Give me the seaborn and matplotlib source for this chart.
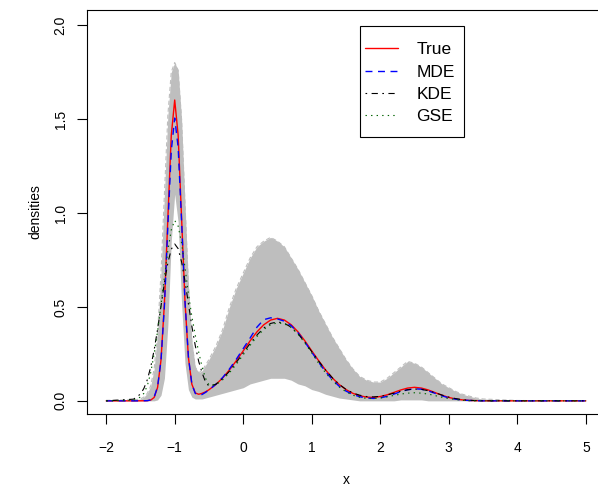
import matplotlib
matplotlib.use("Agg")
import matplotlib.pyplot as plt
import seaborn as sns
import pandas as pd
from matplotlib.patches import Rectangle
from matplotlib.lines import Line2D

# ---------------- data ----------------
x_grid = [-2.0, -1.6, -1.5, -1.45, -1.4, -1.35, -1.3, -1.25, -1.2, -1.15, -1.1, -1.05,
          -1.0, -0.95, -0.9, -0.85, -0.8, -0.75, -0.7, -0.65, -0.6, -0.55, -0.5,
          -0.4, -0.3, -0.2, -0.1, 0.0, 0.1, 0.2, 0.3, 0.4, 0.5, 0.6, 0.7, 0.8, 0.9,
          1.0, 1.1, 1.2, 1.3, 1.4, 1.5, 1.6, 1.7, 1.8, 1.9, 2.0, 2.1, 2.2, 2.3, 2.4,
          2.5, 2.6, 2.7, 2.8, 2.9, 3.0, 3.1, 3.2, 3.3, 3.4, 3.5, 4.0, 4.5, 5.0]

true_dens = [0, 0, 0.0002, 0.0004, 0.0008, 0.004, 0.018, 0.071, 0.217, 0.520, 0.971, 1.412,
             1.601, 1.415, 0.977, 0.530, 0.231, 0.089, 0.042, 0.035, 0.040, 0.048, 0.059,
             0.087, 0.122, 0.165, 0.214, 0.266, 0.319, 0.367, 0.405, 0.430, 0.439, 0.430,
             0.405, 0.367, 0.319, 0.266, 0.214, 0.165, 0.122, 0.087, 0.060, 0.040, 0.027,
             0.020, 0.018, 0.023, 0.032, 0.045, 0.058, 0.068, 0.072, 0.068, 0.058, 0.044,
             0.030, 0.018, 0.010, 0.005, 0.002, 0.001, 0.0003, 0, 0, 0]

mde_dens = [0, 0, 0.0002, 0.0005, 0.001, 0.005, 0.020, 0.075, 0.215, 0.505, 0.930, 1.330,
            1.505, 1.350, 0.960, 0.530, 0.235, 0.090, 0.040, 0.030, 0.034, 0.045, 0.058,
            0.088, 0.124, 0.170, 0.222, 0.278, 0.334, 0.392, 0.432, 0.442, 0.436, 0.424,
            0.400, 0.362, 0.313, 0.259, 0.206, 0.156, 0.113, 0.078, 0.052, 0.034, 0.022,
            0.015, 0.013, 0.016, 0.024, 0.036, 0.049, 0.059, 0.064, 0.062, 0.053, 0.040,
            0.027, 0.016, 0.009, 0.004, 0.002, 0.001, 0, 0, 0, 0]

kde_dens = [0, 0.009, 0.036, 0.066, 0.112, 0.180, 0.271, 0.381, 0.504, 0.629, 0.734, 0.807,
            0.835, 0.810, 0.740, 0.638, 0.517, 0.398, 0.294, 0.210, 0.149, 0.100, 0.078,
            0.088, 0.118, 0.158, 0.205, 0.255, 0.305, 0.350, 0.388, 0.412, 0.420, 0.413,
            0.392, 0.357, 0.312, 0.262, 0.212, 0.165, 0.123, 0.088, 0.061, 0.042, 0.030,
            0.023, 0.021, 0.024, 0.031, 0.041, 0.051, 0.059, 0.063, 0.061, 0.054, 0.043,
            0.031, 0.020, 0.012, 0.006, 0.003, 0.001, 0, 0, 0, 0]

gse_dens = [0, 0.003, 0.02, 0.04, 0.08, 0.15, 0.25, 0.37, 0.51, 0.66, 0.80, 0.91,
            0.96, 0.93, 0.84, 0.71, 0.57, 0.45, 0.35, 0.26, 0.18, 0.12, 0.085,
            0.085, 0.112, 0.150, 0.195, 0.245, 0.295, 0.342, 0.380, 0.405, 0.415, 0.410,
            0.390, 0.355, 0.308, 0.255, 0.200, 0.150, 0.108, 0.074, 0.048, 0.030, 0.019,
            0.013, 0.012, 0.015, 0.021, 0.029, 0.036, 0.041, 0.043, 0.041, 0.036, 0.028,
            0.019, 0.012, 0.007, 0.003, 0.001, 0, 0, 0, 0, 0]

# envelope of the grey bundle of simulated estimates
band_upper = [0.003, 0.005, 0.01, 0.02, 0.04, 0.08, 0.17, 0.36, 0.68, 1.10, 1.52, 1.75,
              1.80, 1.76, 1.50, 1.05, 0.62, 0.32, 0.18, 0.15, 0.16, 0.19, 0.22,
              0.29, 0.38, 0.50, 0.60, 0.68, 0.76, 0.82, 0.85, 0.87, 0.85, 0.82,
              0.76, 0.70, 0.63, 0.56, 0.48, 0.41, 0.34, 0.28, 0.22, 0.17, 0.13,
              0.11, 0.10, 0.10, 0.12, 0.15, 0.18, 0.21, 0.20, 0.18, 0.15, 0.12,
              0.09, 0.07, 0.05, 0.035, 0.025, 0.015, 0.01, 0.002, 0, 0]

band_lower = [0, 0, 0, 0, 0, 0, 0, 0.005, 0.03, 0.12, 0.40, 0.85,
              1.10, 0.95, 0.52, 0.20, 0.06, 0.02, 0.01, 0.01, 0.01, 0.015, 0.02,
              0.03, 0.04, 0.05, 0.06, 0.07, 0.09, 0.10, 0.11, 0.12, 0.12, 0.12,
              0.11, 0.09, 0.08, 0.06, 0.05, 0.035, 0.025, 0.015, 0.01, 0.005, 0,
              0, 0, 0, 0, 0, 0.005, 0.005, 0.005, 0.005, 0, 0,
              0, 0, 0, 0, 0, 0, 0, 0, 0, 0]

series_names = ["True", "MDE", "KDE", "GSE"]
x_ticks = [-2, -1, 0, 1, 2, 3, 4, 5]
y_ticks = [0.0, 0.5, 1.0, 1.5, 2.0]

# ---------------- style ----------------
sns.set_theme(style="white")
plt.rcParams["font.family"] = ["Liberation Sans", "DejaVu Sans"]
plt.rcParams["lines.scale_dashes"] = False

W, H = 598, 493
fig = plt.figure(figsize=(W / 100, H / 100), dpi=100)
fig.patch.set_facecolor("white")

left_px, right_px, top_px, bot_px = 87, 605, 10, 414
ax = fig.add_axes([left_px / W, 1 - bot_px / H, (right_px - left_px) / W, (bot_px - top_px) / H])
ax.set_facecolor("white")

df = pd.DataFrame({"x": x_grid, "True": true_dens, "MDE": mde_dens,
                   "KDE": kde_dens, "GSE": gse_dens,
                   "up": band_upper, "lo": band_lower})

grey = "#BEBEBE"
ax.fill_between(df["x"], df["lo"], df["up"], color=grey, lw=0, zorder=1)
sns.lineplot(data=df, x="x", y="up", ax=ax, color=grey, lw=0.8,
             linestyle=(0, (3, 2)), zorder=1.5, legend=False)

styles = {
    "True": dict(color="red", lw=1.0, linestyle="-"),
    "MDE": dict(color="blue", lw=1.0, linestyle=(0, (5, 4))),
    "KDE": dict(color="black", lw=0.8, linestyle=(0, (1.2, 3.2, 4.5, 3.2))),
    "GSE": dict(color="darkgreen", lw=0.8, linestyle=(0, (1.0, 3.0))),
}
for i, name in enumerate(series_names):
    sns.lineplot(data=df, x="x", y=name, ax=ax, zorder=2 + i, legend=False, **styles[name])

ax.set_xlim(-2.28, 5.28)
ax.set_ylim(-0.07, 2.08)
ax.set_xticks(x_ticks)
ax.set_xticklabels([("\u2212%d" % -t) if t < 0 else str(t) for t in x_ticks])
ax.set_yticks(y_ticks)
ax.set_yticklabels(["%.1f" % t for t in y_ticks], rotation=90, va="center")

for sp in ax.spines.values():
    sp.set_visible(True)
    sp.set_color("black")
    sp.set_linewidth(0.8)

ax.tick_params(axis="both", which="major", direction="out", length=7, width=0.8,
               color="black", labelsize=10, labelcolor="black", bottom=True, left=True)
ax.tick_params(axis="x", pad=12.5)
ax.tick_params(axis="y", pad=7)

ax.set_xlabel("x", fontsize=10, color="black")
ax.set_ylabel("densities", fontsize=10, color="black")
ax.xaxis.set_label_coords(0.5, (bot_px - 480) / (bot_px - top_px))
ax.xaxis.label.set_va("center")
ax.yaxis.set_label_coords((35 - left_px) / (right_px - left_px), 0.5)
ax.yaxis.label.set_va("center")

# legend
handles = [Line2D([0], [0], **styles[n]) for n in series_names]
leg = ax.legend(handles, series_names, loc="upper left",
                bbox_to_anchor=(365 / W, 1 - 42 / H), bbox_transform=fig.transFigure,
                frameon=False, borderpad=0, borderaxespad=0, handlelength=1.9,
                handletextpad=1.05, labelspacing=0.42, fontsize=12.5)
for t in leg.get_texts():
    t.set_color("black")
rect = Rectangle((360 / W, 1 - 137 / H), 104 / W, 111 / H, transform=fig.transFigure,
                 fill=False, ec="black", lw=0.8, zorder=10)
fig.patches.append(rect)

fig.savefig("out.png", dpi=100, facecolor="white")
